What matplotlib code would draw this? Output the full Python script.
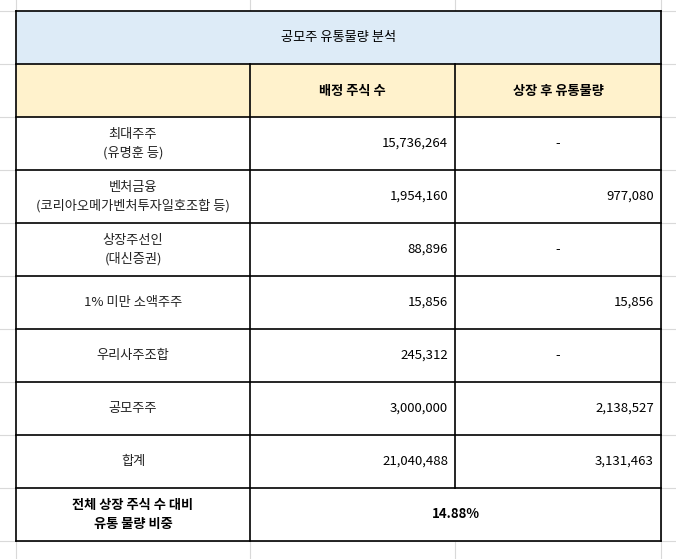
import matplotlib
matplotlib.use("Agg")
import matplotlib.pyplot as plt
from matplotlib.patches import Rectangle
from matplotlib import font_manager as fm

names = sorted({f.name for f in fm.fontManager.ttflist})
cjk = [n for n in names if "CJK" in n]
pref = [n for n in ["Noto Sans CJK KR", "Noto Sans CJK JP", "Noto Sans CJK SC"] if n in names] or cjk
plt.rcParams["font.family"] = pref + ["DejaVu Sans"]

title = "공모주 유통물량 분석"
headers = ["", "배정 주식 수", "상장 후 유통물량"]
categories = ["최대주주\n(유명훈 등)", "벤처금융\n(코리아오메가벤처투자일호조합 등)", "상장주선인\n(대신증권)",
              "1% 미만 소액주주", "우리사주조합", "공모주주", "합계"]
allocated = [15736264, 1954160, 88896, 15856, 245312, 3000000, 21040488]
floating = [None, 977080, None, 15856, None, 2138527, 3131463]
ratio_label = "전체 상장 주식 수 대비\n유통 물량 비중"
ratio_value = "14.88%"

W, H = 676, 559
fig = plt.figure(figsize=(W/100, H/100), dpi=100)
ax = fig.add_axes([0, 0, 1, 1])
ax.set_xlim(0, W); ax.set_ylim(H, 0); ax.axis("off")

cols = [16, 250, 455, 661]
rows = [11 + 53*i for i in range(11)]
grid = "#d9d9d9"
for y in rows:
    ax.plot([0, W], [y, y], color=grid, lw=0.8, zorder=0)
for x in cols:
    ax.plot([x, x], [0, H], color=grid, lw=0.8, zorder=0)

ax.add_patch(Rectangle((cols[0], rows[0]), cols[3]-cols[0], 53, fc="#ddebf7", ec="none", zorder=1))
ax.add_patch(Rectangle((cols[0], rows[1]), cols[3]-cols[0], 53, fc="#fff2cc", ec="none", zorder=1))
ax.add_patch(Rectangle((cols[0], rows[2]), cols[3]-cols[0], rows[10]-rows[2], fc="white", ec="none", zorder=1))

lk = dict(color="black", lw=1.2, zorder=3)
for y in rows:
    ax.plot([cols[0], cols[3]], [y, y], **lk)
ax.plot([cols[0]]*2, [rows[0], rows[10]], **lk)
ax.plot([cols[3]]*2, [rows[0], rows[10]], **lk)
ax.plot([cols[1]]*2, [rows[1], rows[10]], **lk)
ax.plot([cols[2]]*2, [rows[1], rows[9]], **lk)

fs = 9.5
def cy(i): return (rows[i] + rows[i+1]) / 2
ax.text((cols[0]+cols[3])/2, cy(0), title, ha="center", va="center", fontsize=fs, zorder=4)
for j in (1, 2):
    ax.text((cols[j]+cols[j+1])/2, cy(1), headers[j], ha="center", va="center", fontsize=fs, fontweight="bold", zorder=4)
for i, (c, a, f) in enumerate(zip(categories, allocated, floating)):
    r = i + 2
    ax.text((cols[0]+cols[1])/2, cy(r), c, ha="center", va="center", fontsize=fs, color="#222222", linespacing=1.5, zorder=4)
    ax.text(cols[2]-7, cy(r), f"{a:,}", ha="right", va="center", fontsize=fs, zorder=4)
    if f is None:
        ax.text((cols[2]+cols[3])/2, cy(r), "-", ha="center", va="center", fontsize=fs, zorder=4)
    else:
        ax.text(cols[3]-7, cy(r), f"{f:,}", ha="right", va="center", fontsize=fs, zorder=4)
ax.text((cols[0]+cols[1])/2, cy(9), ratio_label, ha="center", va="center", fontsize=fs, fontweight="bold", linespacing=1.5, zorder=4)
ax.text((cols[1]+cols[3])/2, cy(9), ratio_value, ha="center", va="center", fontsize=fs, fontweight="bold", zorder=4)

fig.savefig("out.png", dpi=100)
